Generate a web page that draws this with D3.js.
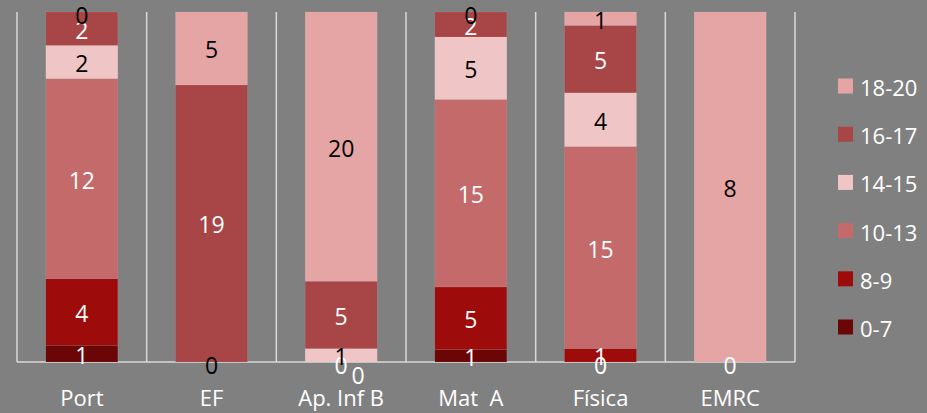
<!DOCTYPE html>
<html lang="pt">
<head>
<meta charset="utf-8">
<title>Notas</title>
<script src="https://cdn.jsdelivr.net/npm/d3@7"></script>
<style>
  body { margin: 0; background: #808080; }
  text { font-family: "Open Sans", sans-serif; }
</style>
</head>
<body>
<svg width="927" height="413"></svg>
<script>
// data (null = no value in that cell)
var categories = ['Port', 'EF', 'Ap. Inf B', 'Mat  A', 'Física', 'EMRC'];
var seriesNames = ['0-7', '8-9', '10-13', '14-15', '16-17', '18-20'];
var s0_7   = [1, null, 0, 1, 0, 0];
var s8_9   = [4, null, 0, 5, 1, null];
var s10_13 = [12, null, null, 15, 15, null];
var s14_15 = [2, 0, 1, 5, 4, null];
var s16_17 = [2, 19, 5, 2, 5, null];
var s18_20 = [0, 5, 20, 0, 1, 8];

var colors = ['#6b0606', '#9e0b0b', '#c46a6a', '#efc5c5', '#a84546', '#e5a5a5'];
var labelColors = ['#fff', '#fff', '#fff', '#000', '#fff', '#000'];

var allSeries = [s0_7, s8_9, s10_13, s14_15, s16_17, s18_20];

var svg = d3.select('svg');
var plotL = 17, plotR = 795, plotT = 12, plotB = 362;

var x = d3.scaleBand().domain(categories).range([plotL, plotR]).paddingInner(0.445).paddingOuter(0.2225);
var y = d3.scaleLinear().domain([0, 1]).range([plotB, plotT]);

// rows for stacking (share of each bar)
var rows = categories.map(function(c, i) {
    var r = { cat: c };
    var tot = d3.sum(allSeries, function(s) { return s[i] || 0; });
    seriesNames.forEach(function(n, k) { r[n] = (allSeries[k][i] || 0) / tot; });
    return r;
});
var stacked = d3.stack().keys(seriesNames)(rows);

// category separators
var step = x.step();
var seps = d3.range(categories.length + 1).map(function(i) { return plotL + i * step; });
svg.append('g').selectAll('line').data(seps).enter().append('line')
    .attr('x1', d => d).attr('x2', d => d)
    .attr('y1', plotT).attr('y2', plotB)
    .style('stroke', '#d9d9d9').style('stroke-width', 1.5);
svg.append('line').attr('x1', plotL).attr('x2', plotR).attr('y1', plotB).attr('y2', plotB)
    .style('stroke', '#d9d9d9').style('stroke-width', 1.5);

var layers = svg.append('g').selectAll('g.layer').data(stacked).enter().append('g')
    .attr('class', 'layer')
    .style('fill', (d, i) => colors[i]);
layers.selectAll('rect').data(d => d).enter().append('rect')
    .attr('x', d => x(d.data.cat))
    .attr('width', x.bandwidth())
    .attr('y', d => y(d[1]))
    .attr('height', d => y(d[0]) - y(d[1]))
    .style('stroke', 'rgba(255,255,255,0.15)')
    .style('stroke-width', 0.5);

// data labels; repeated zero labels at the base of a bar get nudged like the original
var zeroCount = {};
stacked.forEach(function(layer, k) {
    layer.forEach(function(d, i) {
        var v = allSeries[k][i];
        if (v === null) return;
        var cx = x(d.data.cat) + x.bandwidth() / 2;
        var cy = (y(d[0]) + y(d[1])) / 2;
        if (v === 0) {
            cy += 2;
            zeroCount[i] = (zeroCount[i] || 0) + 1;
            if (zeroCount[i] > 1 && d[0] === 0) { cx += 17; cy += 10; }
        }
        svg.append('text')
            .attr('x', cx).attr('y', cy + 1)
            .attr('text-anchor', 'middle')
            .attr('dominant-baseline', 'central')
            .style('font-size', '23px')
            .style('fill', labelColors[k])
            .text(v);
    });
});

// category axis labels
svg.append('g').selectAll('text').data(categories).enter().append('text')
    .attr('x', d => x(d) + x.bandwidth() / 2)
    .attr('y', 406)
    .attr('text-anchor', 'middle')
    .attr('xml:space', 'preserve')
    .style('white-space', 'pre')
    .style('font-size', '22px')
    .style('fill', '#fff')
    .text(d => d);

// legend, top entry is the last series
var legend = svg.append('g').selectAll('g').data(seriesNames.slice().reverse()).enter().append('g')
    .attr('transform', (d, i) => 'translate(838,' + (86 + i * 48.2) + ')');
legend.append('rect').attr('x', 0).attr('y', -7.5).attr('width', 15).attr('height', 15)
    .style('fill', d => colors[seriesNames.indexOf(d)]);
legend.append('text').attr('x', 22).attr('y', 1)
    .attr('dominant-baseline', 'central')
    .style('font-size', '22px')
    .style('fill', '#fff')
    .text(d => d);
</script>
</body>
</html>
